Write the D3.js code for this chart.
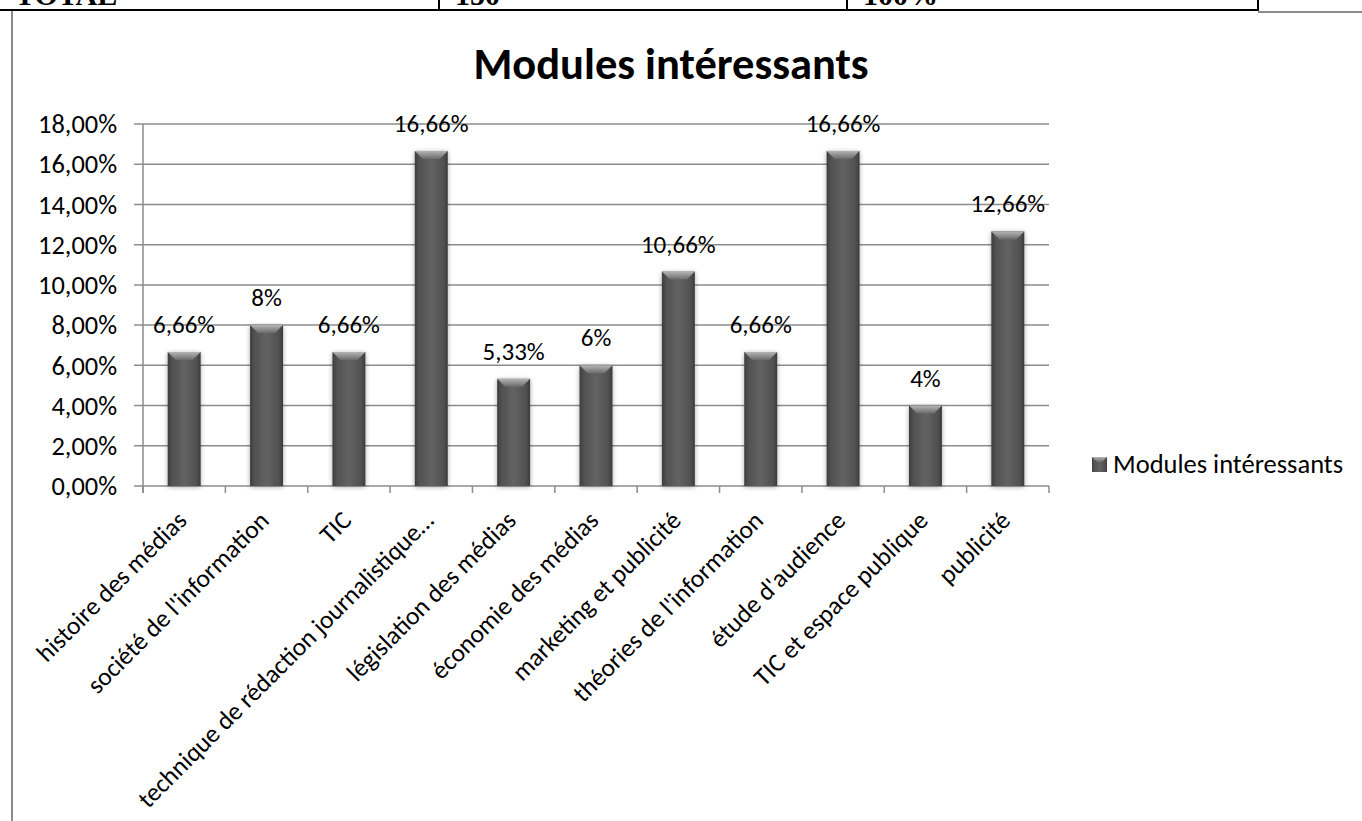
<!DOCTYPE html>
<html>
<head>
<meta charset="utf-8">
<script src="https://cdn.jsdelivr.net/npm/d3@7/dist/d3.min.js"></script>
<style>
  html, body { margin: 0; padding: 0; background: #fff; }
  svg { display: block; }
  text { font-family: Carlito, Calibri, "Open Sans", sans-serif; fill: #000; }
</style>
</head>
<body>
<svg id="chart" width="1362" height="821"></svg>
<script>
// ---- data ----
const categories = [
  "histoire des médias",
  "société de l'information",
  "TIC",
  "technique de rédaction journalistique…",
  "législation des médias",
  "économie des médias",
  "marketing et publicité",
  "théories de l'information",
  "étude d'audience",
  "TIC et espace publique",
  "publicité"
];
const values = [6.66, 8, 6.66, 16.66, 5.33, 6, 10.66, 6.66, 16.66, 4, 12.66];
const valueLabels = ["6,66%", "8%", "6,66%", "16,66%", "5,33%", "6%", "10,66%", "6,66%", "16,66%", "4%", "12,66%"];
const yTicks = [0, 2, 4, 6, 8, 10, 12, 14, 16, 18];
const yTickLabels = ["0,00%", "2,00%", "4,00%", "6,00%", "8,00%", "10,00%", "12,00%", "14,00%", "16,00%", "18,00%"];
const tableCells = ["TOTAL", "150", "100%"];
const chartTitle = "Modules intéressants";
const seriesName = "Modules intéressants";

// ---- layout ----
const svg = d3.select("#chart");
const plot = { left: 143, right: 1049, top: 124, bottom: 486 };

const x = d3.scaleBand().domain(categories).range([plot.left, plot.right]).paddingInner(0.6).paddingOuter(0.3);
const xb = d3.scaleBand().domain(categories).range([plot.left, plot.right]);
const y = d3.scaleLinear().domain([0, 18]).range([plot.bottom, plot.top]);

const defs = svg.append("defs");
const g1 = defs.append("linearGradient").attr("id", "barGrad").attr("x1", "0").attr("x2", "1").attr("y1", "0").attr("y2", "0");
g1.append("stop").attr("offset", "0").attr("stop-color", "#3c3c3c");
g1.append("stop").attr("offset", "0.12").attr("stop-color", "#505050");
g1.append("stop").attr("offset", "0.5").attr("stop-color", "#636363");
g1.append("stop").attr("offset", "0.88").attr("stop-color", "#505050");
g1.append("stop").attr("offset", "1").attr("stop-color", "#3a3a3a");
const g2 = defs.append("linearGradient").attr("id", "bevelGrad").attr("x1", "0").attr("x2", "0").attr("y1", "0").attr("y2", "1");
g2.append("stop").attr("offset", "0").attr("stop-color", "#b4b4b4");
g2.append("stop").attr("offset", "1").attr("stop-color", "#6a6a6a");
const f = defs.append("filter").attr("id", "shadow").attr("x", "-30%").attr("y", "-10%").attr("width", "160%").attr("height", "120%");
f.append("feGaussianBlur").attr("in", "SourceAlpha").attr("stdDeviation", 2.5).attr("result", "b");
f.append("feOffset").attr("in", "b").attr("dx", 0).attr("dy", 1).attr("result", "o");
f.append("feComponentTransfer").attr("in", "o").attr("result", "s").append("feFuncA").attr("type", "linear").attr("slope", 0.35);
const fm = f.append("feMerge");
fm.append("feMergeNode").attr("in", "s");
fm.append("feMergeNode").attr("in", "SourceGraphic");

// ---- table fragment at top ----
const tableX = [0, 439, 847, 1258];
svg.append("line").attr("x1", 0).attr("x2", 1258).attr("y1", 10).attr("y2", 10).attr("stroke", "#000").attr("stroke-width", 2);
[439, 847, 1258].forEach(xx => {
  svg.append("line").attr("x1", xx).attr("x2", xx).attr("y1", 0).attr("y2", 11).attr("stroke", "#000").attr("stroke-width", 2);
});
svg.selectAll("text.cell").data(tableCells).join("text").attr("class", "cell")
  .attr("x", (d, i) => tableX[i] + (i === 0 ? 15 : 16)).attr("y", 5)
  .style("font-family", "'Liberation Serif', 'Times New Roman', serif").style("font-weight", "bold").style("font-size", "30px")
  .text(d => d);

// ---- chart frame ----
svg.append("line").attr("x1", 1258).attr("x2", 1362).attr("y1", 12).attr("y2", 12).attr("stroke", "#8c8c8c").attr("stroke-width", 2);
svg.append("line").attr("x1", 12).attr("x2", 12).attr("y1", 11).attr("y2", 821).attr("stroke", "#8c8c8c").attr("stroke-width", 2);

// ---- title ----
svg.append("text").attr("x", 671).attr("y", 79).attr("text-anchor", "middle")
  .style("font-size", "44.5px").style("font-weight", "bold").text(chartTitle);

// ---- gridlines ----
svg.append("g").selectAll("line").data(yTicks).join("line")
  .attr("x1", plot.left - 9).attr("x2", plot.right)
  .attr("y1", d => y(d)).attr("y2", d => y(d))
  .attr("stroke", "#8c8c8c").attr("stroke-width", 1.5);

// y axis
svg.append("line").attr("x1", plot.left).attr("x2", plot.left).attr("y1", plot.top).attr("y2", plot.bottom + 7)
  .attr("stroke", "#8c8c8c").attr("stroke-width", 1.5);
svg.append("g").selectAll("text").data(yTicks).join("text")
  .attr("x", plot.left - 26).attr("y", d => y(d)).attr("dy", "0.35em").attr("text-anchor", "end")
  .style("font-size", "26.4px").text((d, i) => yTickLabels[i]);

// x axis ticks
const xTickPos = categories.map(c => xb(c)).concat([plot.right]);
svg.append("g").selectAll("line").data(xTickPos).join("line")
  .attr("x1", d => d).attr("x2", d => d).attr("y1", plot.bottom).attr("y2", plot.bottom + 7)
  .attr("stroke", "#8c8c8c").attr("stroke-width", 1.5);

// ---- bars ----
const bars = svg.append("g").selectAll("g").data(values).join("g");
bars.append("rect").attr("x", (d, i) => x(categories[i])).attr("y", d => y(d))
  .attr("width", x.bandwidth()).attr("height", d => plot.bottom - y(d))
  .attr("fill", "url(#barGrad)").attr("filter", "url(#shadow)");
const bev = 8;
bars.append("polygon").attr("points", (d, i) => {
  const x0 = x(categories[i]), x1 = x0 + x.bandwidth(), t = y(d);
  return [[x0, t], [x1, t], [x1 - bev, t + bev], [x0 + bev, t + bev]].map(p => p.join(",")).join(" ");
}).attr("fill", "url(#bevelGrad)");

// data labels
svg.append("g").selectAll("text").data(values).join("text")
  .attr("x", (d, i) => x(categories[i]) + x.bandwidth() / 2).attr("y", d => y(d) - 19)
  .attr("text-anchor", "middle").style("font-size", "25px").text((d, i) => valueLabels[i]);

// x labels
svg.append("g").selectAll("text").data(categories).join("text")
  .attr("transform", c => `translate(${xb(c) + xb.bandwidth() / 2 + 4},522) rotate(-45)`)
  .attr("text-anchor", "end").style("font-size", "25.5px").text(c => c);

// ---- legend ----
const lg = svg.append("g").attr("transform", "translate(1092,457)");
lg.append("rect").attr("width", 15).attr("height", 15).attr("fill", "url(#barGrad)");
lg.append("polygon").attr("points", "0,0 15,0 10,5 5,5").attr("fill", "url(#bevelGrad)");
lg.append("text").attr("x", 21).attr("y", 16).style("font-size", "26.5px").text(seriesName);
</script>
</body>
</html>
